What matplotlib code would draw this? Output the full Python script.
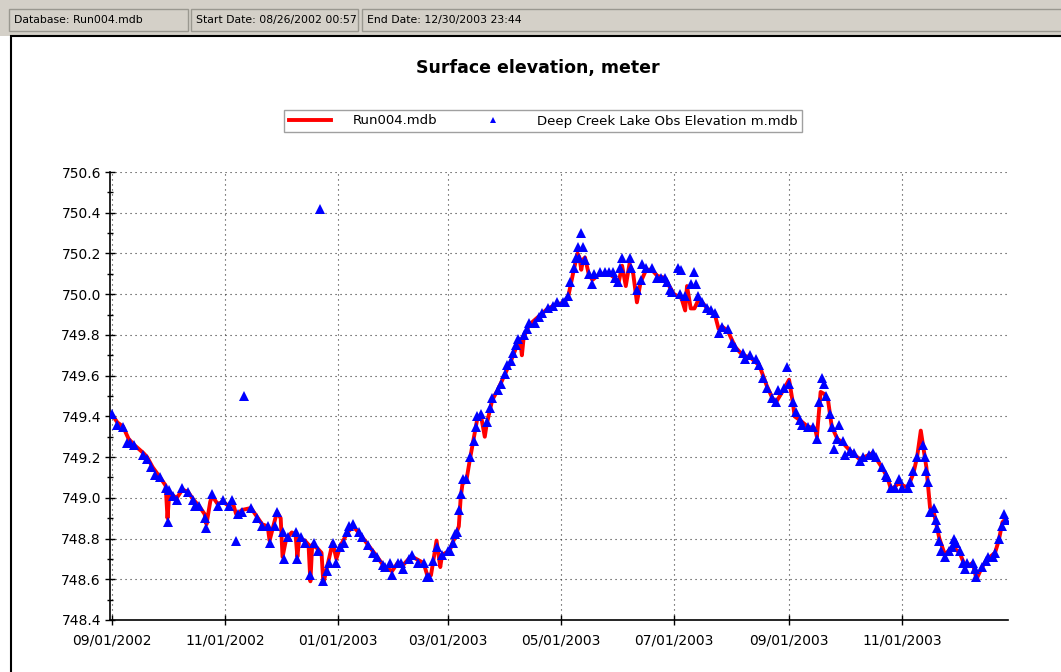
import matplotlib
matplotlib.use('Agg')
import matplotlib.pyplot as plt
import matplotlib.dates as mdates
from matplotlib.patches import Rectangle
from matplotlib.ticker import MultipleLocator
import numpy as np

plt.rcParams['font.family'] = ['DejaVu Sans']

BASE_DATE = np.datetime64('2002-09-01')

HEADER = ['Database: Run004.mdb', 'Start Date: 08/26/2002 00:57', 'End Date: 12/30/2003 23:44']
TITLE = 'Surface elevation, meter'
MODEL_LABEL = 'Run004.mdb'
OBS_LABEL = 'Deep Creek Lake Obs Elevation m.mdb'

# observed elevations, days after 09/01/2002
obs_day = [0, 3, 6, 8, 10, 12, 17, 19, 21, 23, 26, 29, 30, 31, 33, 35, 38, 41, 44, 45,
           47, 50, 51, 54, 57, 60, 63, 65, 67, 68, 70, 71, 75, 78, 81, 84, 85, 88, 89, 92,
           93, 95, 99, 100, 102, 104, 107, 109, 111, 112, 114, 116, 117, 119, 121, 123, 125, 127, 128, 130,
           133, 135, 138, 141, 143, 146, 147, 150, 151, 154, 156, 157, 160, 162, 165, 168, 170, 171, 173, 175,
           178, 181, 182, 184, 185, 186, 187, 188, 189, 191, 193, 195, 196, 197, 199, 202, 204, 205, 208, 210,
           212, 213, 215, 216, 218, 219, 222, 224, 225, 228, 230, 232, 235, 238, 240, 243, 244, 246, 247, 249,
           250, 251, 252, 253, 254, 255, 257, 259, 260, 263, 266, 268, 270, 271, 273, 274, 275, 279, 280, 283,
           285, 286, 288, 291, 294, 296, 298, 299, 301, 302, 305, 306, 307, 309, 312, 314, 315, 316, 318, 321,
           323, 325, 327, 329, 332, 334, 336, 340, 341, 344, 347, 349, 351, 353, 356, 358, 359, 362, 364, 365,
           367, 369, 371, 372, 375, 378, 380, 381, 383, 384, 385, 387, 388, 389, 391, 392, 394, 395, 398, 400,
           403, 405, 408, 410, 412, 415, 417, 418, 420, 422, 424, 426, 429, 430, 432, 434, 437, 438, 439, 440,
           441, 443, 444, 445, 446, 447, 449, 451, 453, 454, 455, 457, 459, 460, 461, 464, 465, 466, 469, 471,
           472, 475, 476, 478, 480, 481, 482]
obs_elev = [749.41, 749.36, 749.35, 749.27, 749.27, 749.26, 749.21, 749.19, 749.15, 749.11,
            749.10, 749.05, 748.88, 749.04, 749.01, 748.99, 749.05, 749.03, 748.99, 748.96,
            748.96, 748.90, 748.85, 749.02, 748.96, 748.99, 748.96, 748.99, 748.79, 748.92,
            748.93, 749.50, 748.95, 748.90, 748.86, 748.86, 748.78, 748.86, 748.93, 748.83,
            748.70, 748.81, 748.83, 748.70, 748.81, 748.78, 748.62, 748.78, 748.74, 750.42,
            748.59, 748.64, 748.68, 748.78, 748.68, 748.76, 748.78, 748.83, 748.86, 748.87,
            748.83, 748.81, 748.77, 748.73, 748.71, 748.67, 748.66, 748.68, 748.62, 748.68,
            748.68, 748.65, 748.70, 748.72, 748.68, 748.68, 748.61, 748.61, 748.69, 748.76,
            748.72, 748.74, 748.74, 748.78, 748.82, 748.83, 748.94, 749.02, 749.09, 749.09,
            749.20, 749.28, 749.35, 749.40, 749.41, 749.37, 749.44, 749.49, 749.53, 749.56,
            749.61, 749.65, 749.67, 749.71, 749.75, 749.78, 749.80, 749.83, 749.86, 749.86,
            749.89, 749.91, 749.93, 749.94, 749.96, 749.96, 749.96, 749.99, 750.06, 750.13,
            750.18, 750.23, 750.18, 750.30, 750.23, 750.17, 750.10, 750.05, 750.10, 750.11,
            750.11, 750.11, 750.11, 750.08, 750.06, 750.13, 750.18, 750.18, 750.13, 750.02,
            750.07, 750.15, 750.13, 750.13, 750.08, 750.08, 750.08, 750.06, 750.02, 750.01,
            750.13, 750.00, 750.12, 749.99, 750.05, 750.11, 750.05, 749.99, 749.96, 749.93,
            749.92, 749.91, 749.81, 749.84, 749.83, 749.76, 749.74, 749.71, 749.68, 749.70,
            749.68, 749.65, 749.59, 749.54, 749.49, 749.47, 749.53, 749.54, 749.64, 749.56,
            749.47, 749.42, 749.38, 749.36, 749.35, 749.35, 749.29, 749.47, 749.59, 749.56,
            749.50, 749.41, 749.35, 749.24, 749.29, 749.36, 749.28, 749.21, 749.23, 749.22,
            749.18, 749.20, 749.21, 749.22, 749.20, 749.15, 749.11, 749.10, 749.05, 749.05,
            749.09, 749.05, 749.05, 749.08, 749.13, 749.20, 749.26, 749.20, 749.13, 749.08,
            748.93, 748.95, 748.89, 748.85, 748.79, 748.74, 748.71, 748.74, 748.76, 748.80,
            748.78, 748.74, 748.68, 748.65, 748.68, 748.68, 748.65, 748.61, 748.66, 748.69,
            748.71, 748.71, 748.73, 748.80, 748.86, 748.92, 748.89]

# simulated elevations (Run004)
model_day = [0, 3, 6, 9, 12, 17, 19, 22, 26, 29, 30, 31, 33, 35, 38, 41, 44, 47, 50, 51,
             53, 54, 57, 60, 63, 65, 67, 68, 70, 75, 78, 81, 84, 85, 87, 89, 91, 92, 94, 97,
             99, 100, 101, 104, 106, 107, 108, 111, 113, 114, 116, 117, 119, 121, 123, 127, 130, 133, 138, 143,
             147, 151, 154, 157, 160, 162, 168, 170, 172, 175, 177, 178, 182, 185, 187, 188, 189, 191, 193, 197,
             199, 201, 202, 205, 208, 212, 215, 218, 220, 221, 222, 225, 230, 235, 240, 244, 246, 249, 251, 252,
             253, 254, 255, 257, 259, 263, 268, 271, 273, 275, 277, 279, 281, 283, 285, 288, 291, 294, 298, 301,
             303, 305, 307, 309, 310, 312, 314, 316, 318, 321, 325, 327, 329, 332, 336, 340, 344, 349, 353, 356,
             358, 362, 365, 367, 368, 371, 375, 379, 380, 382, 384, 386, 388, 391, 394, 398, 403, 408, 410, 415,
             418, 420, 424, 429, 432, 434, 436, 437, 439, 441, 443, 446, 449, 453, 457, 460, 464, 466, 469, 472,
             476, 478, 480, 482]
model_elev = [749.41, 749.37, 749.35, 749.29, 749.26, 749.22, 749.20, 749.15, 749.10, 749.06,
              748.90, 749.03, 749.01, 749.00, 749.04, 749.03, 748.99, 748.96, 748.92, 748.87,
              748.98, 749.01, 748.97, 748.98, 748.96, 748.98, 748.92, 748.92, 748.94, 748.95,
              748.91, 748.87, 748.86, 748.79, 748.86, 748.93, 748.90, 748.71, 748.80, 748.83,
              748.82, 748.71, 748.80, 748.79, 748.77, 748.59, 748.77, 748.75, 748.73, 748.58,
              748.66, 748.70, 748.78, 748.70, 748.76, 748.83, 748.86, 748.83, 748.77, 748.71,
              748.66, 748.64, 748.68, 748.67, 748.70, 748.71, 748.68, 748.62, 748.62, 748.79,
              748.66, 748.72, 748.74, 748.81, 748.86, 749.00, 749.07, 749.08, 749.19, 749.39,
              749.40, 749.30, 749.36, 749.48, 749.53, 749.61, 749.67, 749.74, 749.78, 749.70,
              749.79, 749.85, 749.89, 749.93, 749.95, 749.96, 749.99, 750.12, 750.20, 750.18,
              750.12, 750.17, 750.18, 750.10, 750.07, 750.10, 750.10, 750.08, 750.05, 750.14,
              750.04, 750.15, 750.10, 749.96, 750.06, 750.12, 750.12, 750.09, 750.08, 750.03,
              750.00, 749.99, 749.98, 749.92, 750.04, 749.93, 749.93, 749.97, 749.96, 749.93,
              749.90, 749.83, 749.84, 749.82, 749.74, 749.70, 749.69, 749.65, 749.55, 749.49,
              749.47, 749.53, 749.58, 749.47, 749.40, 749.38, 749.35, 749.34, 749.30, 749.52,
              749.51, 749.48, 749.35, 749.29, 749.27, 749.23, 749.19, 749.21, 749.22, 749.15,
              749.10, 749.04, 749.07, 749.05, 749.12, 749.20, 749.33, 749.27, 749.15, 748.95,
              748.93, 748.80, 748.72, 748.76, 748.73, 748.66, 748.68, 748.60, 748.66, 748.70,
              748.73, 748.79, 748.88, 748.90]

X_START = np.datetime64('2002-08-31')
X_END = np.datetime64('2003-12-28')
Y_MIN, Y_MAX = 748.4, 750.6


def to_dates(days):
    return BASE_DATE + np.array(days, dtype='timedelta64[D]')


fig = plt.figure(figsize=(10.61, 6.72), dpi=100)
W, H = 1061.0, 672.0


def fx(px):
    return px / W


def fy(py):
    return 1 - py / H


# header strip
fig.patches.append(Rectangle((0, fy(36)), 1, 36 / H, transform=fig.transFigure,
                             facecolor='#d4d0c8', edgecolor='none', zorder=-3))
boxes = [(9, 188), (191, 358), (362, 1070)]
for (x0, x1), txt in zip(boxes, HEADER):
    fig.patches.append(Rectangle((fx(x0), fy(31)), fx(x1 - x0), 22 / H, transform=fig.transFigure,
                                 facecolor='#d4d0c8', edgecolor='#9a9890', linewidth=1, zorder=-2))
    fig.text(fx(x0 + 5), fy(20), txt, fontsize=7.8, va='center', ha='left', color='black')

# white panel
fig.patches.append(Rectangle((fx(11), -0.05), 1.0, fy(36) + 0.05, transform=fig.transFigure,
                             facecolor='white', edgecolor='black', linewidth=1.5, zorder=-3))

fig.text(fx(538), fy(68), TITLE, fontsize=12.5, fontweight='bold', ha='center', va='center')

ax = fig.add_axes([fx(110), fy(620), fx(1008 - 110), (620 - 172) / H], zorder=2)
ax.patch.set_alpha(0)

ax.plot(to_dates(model_day), model_elev, color='#ff0000', linewidth=2.8, label=MODEL_LABEL, zorder=3)
ax.plot(to_dates(obs_day), obs_elev, linestyle='none', marker='^', markersize=6.5,
        color='#0000ff', markeredgewidth=0, label=OBS_LABEL, zorder=4)

ax.set_xlim(X_START, X_END)
ax.set_ylim(Y_MIN, Y_MAX)

ax.xaxis.set_major_locator(mdates.MonthLocator(bymonth=[1, 3, 5, 7, 9, 11]))
ax.xaxis.set_major_formatter(mdates.DateFormatter('%m/%d/%Y'))
ax.yaxis.set_major_locator(MultipleLocator(0.2))
ax.yaxis.set_minor_locator(MultipleLocator(0.1))
ax.yaxis.set_major_formatter(matplotlib.ticker.FormatStrFormatter('%.1f'))

ax.tick_params(axis='both', which='major', direction='inout', length=7, width=1, labelsize=10, pad=3)
ax.tick_params(axis='y', which='minor', direction='inout', length=5, width=1)
ax.tick_params(axis='x', pad=6)

for side in ['top', 'right']:
    ax.spines[side].set_visible(False)
for side in ['left', 'bottom']:
    ax.spines[side].set_linewidth(1.2)

ax.grid(True, which='major', color='#333333', linestyle=(0, (1, 3.5)), linewidth=0.8)
ax.set_axisbelow(True)

fig.legend(loc='center', bbox_to_anchor=(fx(543), fy(121)), ncol=2, fontsize=9.5,
           frameon=True, fancybox=False, edgecolor='#a0a0a0', framealpha=1,
           handlelength=3.2, handletextpad=1.7, columnspacing=2.6, borderpad=0.35,
           markerscale=0.6)

fig.savefig('out.png', dpi=100)
